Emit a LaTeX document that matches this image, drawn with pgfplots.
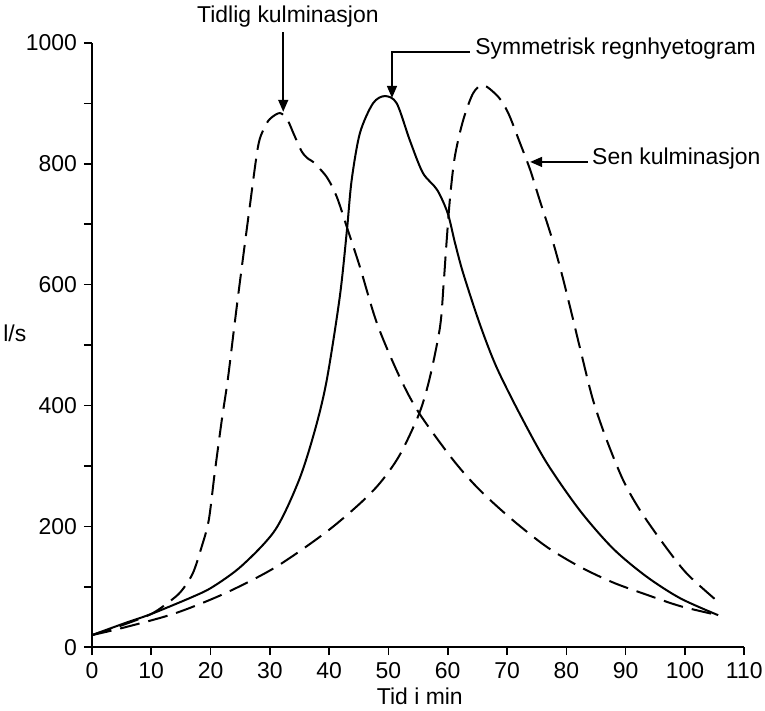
\documentclass[border=0pt]{standalone}
\usepackage{fontspec}
\setmainfont{Liberation Sans}
\usepackage{pgfplots}
\pgfplotsset{compat=1.18}
\usetikzlibrary{arrows.meta}

\begin{document}
\begin{tikzpicture}
\begin{axis}[
  scale only axis, width=326bp, height=302bp,
  xmin=0, xmax=110, ymin=0, ymax=1000,
  axis lines*=left,
  axis line style={line width=1bp},
  tick align=outside,
  major tick length=4bp, minor tick length=4bp,
  tick style={line width=0.8bp, black},
  xtick={0,10,...,110},
  ytick={0,200,...,1000},
  minor ytick={100,300,...,900},
  font=\fontsize{11.5}{13}\selectfont,
  /pgf/number format/assume math mode=true,
  /pgf/number format/1000 sep={},
  clip=false,
]
% Tidlig kulminasjon
\addplot[black, no marks, line width=1bp, smooth, tension=0.5, dash pattern=on 10bp off 4.5bp] coordinates {
(0,20) (5,36) (10,55) (13,75) (15,92) (17,122) (18.5,166) (19.7,210) (20.7,288)
(21.9,376) (22.9,442) (24,530) (25,608) (26.6,728) (28,828) (29,858) (30,874)
(31.7,884) (33,872) (34,850) (35.4,820) (36.5,808) (37.3,803) (39.6,778)
(41.3,745) (43,695) (45.2,629) (48.1,535) (51.9,447) (55.2,387) (60.9,310)
(65.4,260) (71,210) (76.7,166) (82.3,133) (87.9,107) (93.5,87) (99.2,68) (105.6,53)};
% Symmetrisk
\addplot[black, no marks, line width=1bp, smooth, tension=0.5] coordinates {
(0,20) (5.6,40) (10,55) (16.9,83) (20.4,100) (25.3,135) (30.9,194) (34.9,276)
(37.6,359) (39.6,442) (41.8,580) (43,690) (43.8,773) (45.2,851) (47.4,900)
(49.4,912) (51.4,900) (53.6,839) (55.8,785) (58.2,757) (60,718) (61.2,670)
(62.6,619) (65.4,535) (68.2,464) (72.2,385) (76.7,305) (82.3,226) (87.9,163)
(93.5,117) (99.2,81) (105.6,53)};
% Sen kulminasjon
\addplot[black, no marks, line width=1bp, smooth, tension=0.5, dash pattern=on 10bp off 4.5bp] coordinates {
(0,20) (5.6,33) (14,56) (22.4,89) (30.9,132) (39.3,189) (45,236) (48.6,272)
(51.9,318) (55.2,387) (57,447) (58.7,530) (59.3,600) (59.8,670)
(60.4,745) (61.2,812) (62.6,872) (64.3,917) (66,930) (68.5,911) (70.2,884)
(72.2,834) (73.9,790) (75.5,740) (77.5,679) (79.2,619) (80.9,552) (82.5,487)
(84.5,409) (86.8,343) (89.6,276) (92.4,227) (96.3,172) (100.3,122) (105.6,75)};

% annotations
\node[anchor=base, inner sep=0pt] at (axis cs:33.05,1033) {Tidlig kulminasjon};
\draw[line width=0.8bp, -{Triangle[length=6bp, width=5bp]}] (axis cs:32.26,1018) -- (axis cs:32.26,886);
\draw[line width=0.8bp, -{Triangle[length=6bp, width=5bp]}] (axis cs:63.7,985) -- (axis cs:50.6,985) -- (axis cs:50.6,909);
\node[anchor=base west, inner sep=0pt] at (axis cs:64.6,980) {Symmetrisk regnhyetogram};
\draw[line width=0.8bp, -{Triangle[length=6bp, width=5bp]}] (axis cs:83.6,803) -- (axis cs:73.9,803);
\node[anchor=base west, inner sep=0pt] at (axis cs:84.3,798) {Sen kulminasjon};
\node at (axis cs:-13,520) {l/s};
\node[anchor=base, inner sep=0pt] at (axis cs:55.3,-94.4) {Tid i min};

\coordinate (BL) at (axis cs:-15.5,-104.3);
\coordinate (TR) at (axis cs:113.5,1071);
\end{axis}
\pgfresetboundingbox
\useasboundingbox (BL) rectangle (TR);
\end{tikzpicture}
\end{document}
